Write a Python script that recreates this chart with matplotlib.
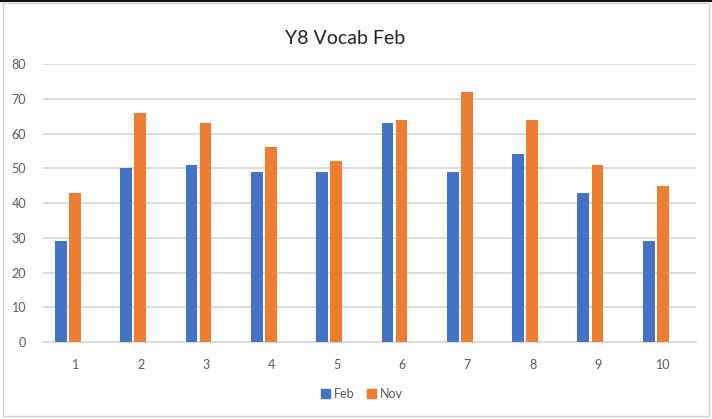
import matplotlib
matplotlib.use("Agg")
import matplotlib.pyplot as plt
import numpy as np
from matplotlib.patches import Rectangle
from matplotlib.lines import Line2D

plt.rcParams['font.family'] = ['Lato', 'DejaVu Sans']

categories = [1, 2, 3, 4, 5, 6, 7, 8, 9, 10]
feb = [29, 50, 51, 49, 49, 63, 49, 54, 43, 29]
nov = [43, 66, 63, 56, 52, 64, 72, 64, 51, 45]

blue = "#4472C4"
orange = "#ED7D31"
grid = "#D9D9D9"
txt = "#595959"

fig = plt.figure(figsize=(7.12, 4.19), dpi=100)
ax = fig.add_axes([43 / 712, 1 - 342 / 419, 653 / 712, 278 / 419])

x = np.array(categories, dtype=float)
w = 0.18
ax.bar(x - 0.225, feb, width=w, color=blue, label="Feb", zorder=3)
ax.bar(x - 0.01, nov, width=w, color=orange, label="Nov", zorder=3)

ax.set_xlim(0.5, 10.5)
ax.set_ylim(0, 80)
ax.set_yticks(range(0, 81, 10))
ax.set_xticks(x)
ax.set_xticklabels([str(c) for c in categories])
ax.yaxis.grid(True, color=grid, linewidth=1.3, zorder=0)
ax.set_axisbelow(True)
for s in ["top", "right", "left"]:
    ax.spines[s].set_visible(False)
ax.spines["bottom"].set_color(grid)
ax.spines["bottom"].set_linewidth(1.3)
ax.tick_params(axis="both", length=0, colors=txt, labelsize=9)
ax.tick_params(axis="y", pad=12)
ax.tick_params(axis="x", pad=12)

fig.text(345 / 712, 1 - 39 / 419, "Y8 Vocab Feb", ha="center", va="center",
         fontsize=14, color="#222222")

handles = [Rectangle((0, 0), 1, 1, color=blue), Rectangle((0, 0), 1, 1, color=orange)]
fig.legend(handles, ["Feb", "Nov"], loc="center", bbox_to_anchor=(362 / 712, 1 - 394 / 419),
           ncol=2, frameon=False, fontsize=9, labelcolor=txt, handlelength=0.7,
           handleheight=0.7, handletextpad=0.3, columnspacing=1.0)

# chart border
fig.patches.append(Rectangle((3 / 712, 3 / 419), 706 / 712, 413 / 419, transform=fig.transFigure,
                             fill=False, edgecolor="#D0D0D0", linewidth=1))
fig.lines.append(Line2D([0, 1], [1 - 0.8 / 419, 1 - 0.8 / 419], transform=fig.transFigure,
                        color="#111111", linewidth=1.5))

fig.savefig("out.png", dpi=100)
